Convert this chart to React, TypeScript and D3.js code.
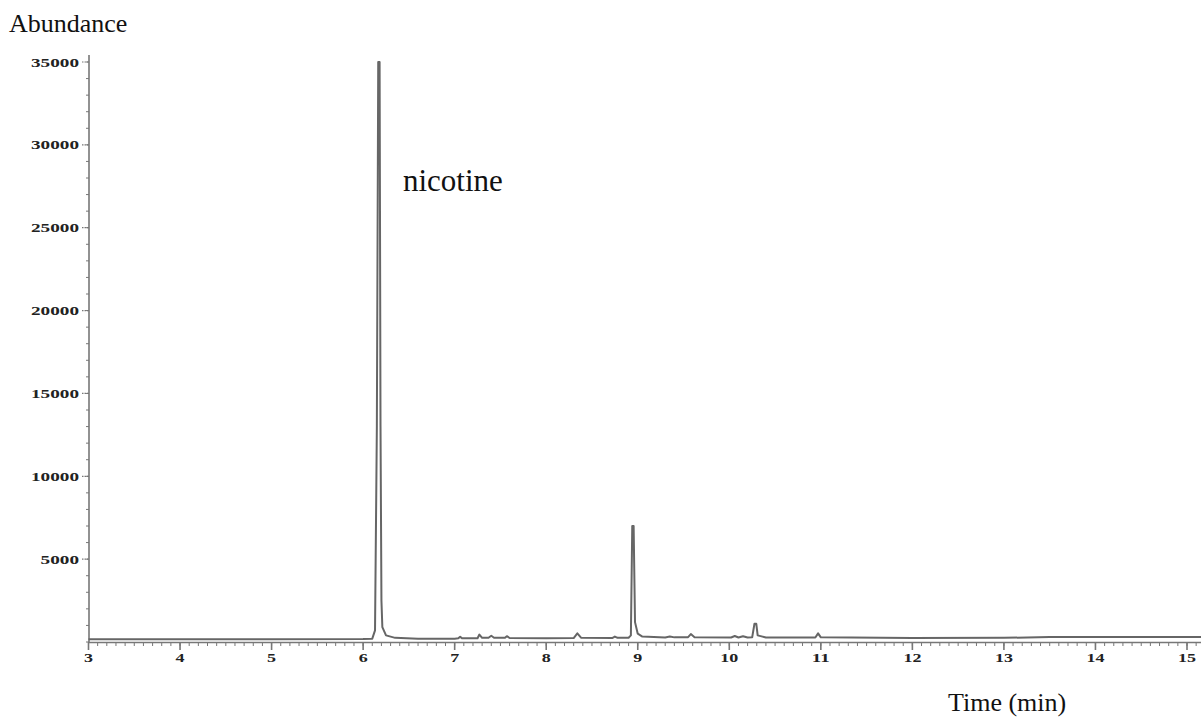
import React from "react";
import * as d3 from "d3";

const times = [3.0, 4.0, 5.0, 6.0, 6.1, 6.13, 6.15, 6.165, 6.18, 6.19, 6.2, 6.21, 6.25, 6.35, 6.6, 7.0, 7.04, 7.06, 7.08, 7.25, 7.27, 7.3, 7.37, 7.4, 7.43, 7.55, 7.57, 7.6, 8.0, 8.3, 8.34, 8.38, 8.72, 8.75, 8.78, 8.9, 8.925, 8.94, 8.955, 8.97, 9.0, 9.05, 9.3, 9.35, 9.4, 9.55, 9.58, 9.62, 10.02, 10.06, 10.1, 10.15, 10.2, 10.25, 10.275, 10.295, 10.31, 10.4, 10.94, 10.97, 11.0, 12.0, 13.0, 13.5, 14.0, 15.2];
const abundance = [170, 170, 170, 180, 200, 700, 13000, 35000, 35000, 13000, 2500, 900, 400, 250, 200, 200, 220, 320, 220, 230, 450, 250, 260, 380, 260, 250, 350, 240, 220, 240, 520, 260, 240, 330, 250, 260, 400, 7000, 7000, 1200, 500, 330, 270, 330, 280, 290, 480, 290, 270, 360, 270, 350, 270, 280, 1100, 1100, 400, 270, 270, 520, 280, 240, 250, 300, 300, 300];

const yTicks = [5000, 10000, 15000, 20000, 25000, 30000, 35000];
const xTicks = [3, 4, 5, 6, 7, 8, 9, 10, 11, 12, 13, 14, 15];

export default function App() {
  const x = d3.scaleLinear().domain([3, 15]).range([88.5, 1187]);
  const y = d3.scaleLinear().domain([0, 35000]).range([642, 62]);
  const pts: [number, number][] = times.map((t, i) => [t, abundance[i]]);
  const line = d3
    .line<[number, number]>()
    .x((d) => x(d[0]))
    .y((d) => y(d[1]));

  const yMinor = d3.range(0, 35001, 1000);
  const xMinor = d3.range(30, 152, 1).map((v) => v / 10);
  const axisCol = "#777";
  const lab = "#222";

  return (
    <svg
      width={1201}
      height={718}
      style={{ position: "absolute", left: 0, top: 0, background: "#fff" }}
      fontFamily="'Liberation Serif', 'Times New Roman', serif"
    >
      <rect width={1201} height={718} fill="#fff" />
      <text x={9} y={32} fontSize={26} fill="#111">
        Abundance
      </text>
      <text x={403} y={191} fontSize={31} fill="#111">
        nicotine
      </text>
      <text x={948} y={711} fontSize={26} fill="#111">
        Time (min)
      </text>

      {/* y axis */}
      <line x1={89} y1={55} x2={89} y2={643} stroke={axisCol} strokeWidth={1.6} />
      {yMinor.map((v) => (
        <line key={"ym" + v} x1={86} x2={89} y1={y(v)} y2={y(v)} stroke={axisCol} strokeWidth={1} />
      ))}
      {yTicks.map((v) => (
        <g key={"yt" + v}>
          <line x1={82} x2={89} y1={y(v)} y2={y(v)} stroke={axisCol} strokeWidth={1.2} strokeDasharray="1.5 1" />
          <text
            x={79}
            y={y(v) + 4.5}
            fontSize={13}
            fontWeight={600}
            textAnchor="end"
            fill={lab}
            textLength={String(v).length * 9.6}
            lengthAdjust="spacingAndGlyphs"
          >
            {v}
          </text>
        </g>
      ))}

      {/* x axis */}
      <line x1={88} y1={642.5} x2={1201} y2={642.5} stroke={axisCol} strokeWidth={1.6} />
      {xMinor.map((v) => (
        <line key={"xm" + v} x1={x(v)} x2={x(v)} y1={642} y2={646} stroke={axisCol} strokeWidth={1} />
      ))}
      {xTicks.map((v) => (
        <g key={"xt" + v}>
          <line x1={x(v)} x2={x(v)} y1={642} y2={650} stroke={axisCol} strokeWidth={1.6} />
          <text
            x={x(v)}
            y={662}
            fontSize={13}
            fontWeight={600}
            textAnchor="middle"
            fill={lab}
            textLength={String(v).length * 9}
            lengthAdjust="spacingAndGlyphs"
          >
            {v}
          </text>
        </g>
      ))}

      {/* trace */}
      <path d={line(pts) || ""} fill="none" stroke="#666" strokeWidth={2} strokeLinejoin="round" />
    </svg>
  );
}
